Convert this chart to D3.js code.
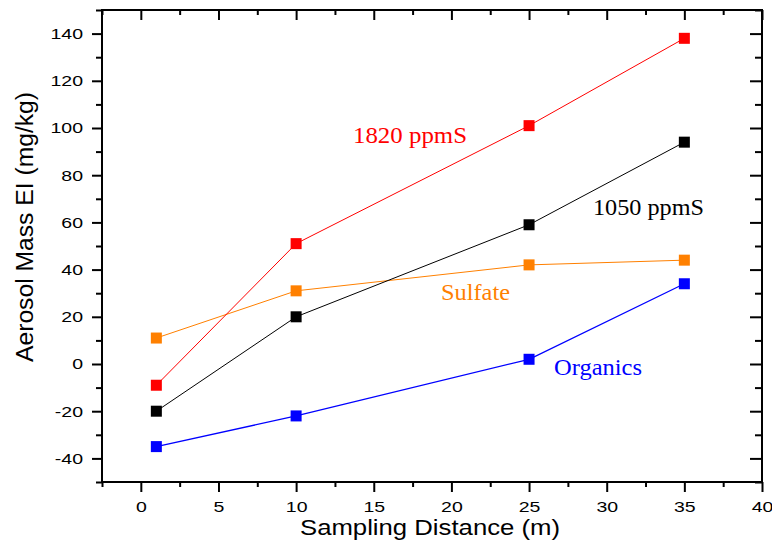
<!DOCTYPE html>
<html><head><meta charset="utf-8">
<script src="https://cdn.jsdelivr.net/npm/d3@7"></script>
<style>body{margin:0;background:#fff}svg{display:block}</style>
</head><body>
<script>
const distances = [1, 10, 25, 35];
const series1820 = [-9, 51, 101, 138];
const series1050 = [-20, 20, 59, 94];
const seriesSulfate = [11, 31, 42, 44];
const seriesOrganics = [-35, -22, 2, 34];
const xTicks = [0, 5, 10, 15, 20, 25, 30, 35, 40];
const yTicks = [-40, -20, 0, 20, 40, 60, 80, 100, 120, 140];

const W = 772, H = 544;
const m = {left: 102, right: 10, top: 10, bottom: 62};
const svg = d3.select("body").append("svg").attr("width", W).attr("height", H);
svg.append("rect").attr("width", W).attr("height", H).attr("fill", "#fff");

const x = d3.scaleLinear().domain([-2.5, 40]).range([m.left, W - m.right]);
const y = d3.scaleLinear().domain([-50, 150]).range([H - m.bottom, m.top]);

const font = "Liberation Sans, Arial, sans-serif";
const SX = 1.3;
const fmt = d => String(d);

function styleAxis(g) {
  g.select(".domain").remove();
  g.selectAll("line").attr("stroke", "#000").attr("stroke-width", 2);
  g.selectAll("text").attr("font-family", font).attr("font-size", 15).attr("fill", "#000");
}

const xMinor = d3.range(-2.5, 40.01, 5);
const yMinor = d3.range(-50, 150.01, 20);

// bottom
const gB = svg.append("g").attr("transform", `translate(0,${y(-50)})`)
  .call(d3.axisBottom(x).tickValues(xTicks).tickSize(10).tickPadding(0).tickFormat(fmt));
styleAxis(gB);
gB.selectAll("text").attr("dy", 0).attr("y", 30).attr("transform", `scale(${SX},1)`);
svg.append("g").attr("transform", `translate(0,${y(-50)})`)
  .call(d3.axisBottom(x).tickValues(xMinor).tickSize(5).tickFormat("")).call(styleAxis);
// top (inward)
svg.append("g").attr("transform", `translate(0,${y(150)})`)
  .call(d3.axisBottom(x).tickValues(xTicks).tickSize(10).tickFormat("")).call(styleAxis);
svg.append("g").attr("transform", `translate(0,${y(150)})`)
  .call(d3.axisBottom(x).tickValues(xMinor).tickSize(5).tickFormat("")).call(styleAxis);
// left
const gL = svg.append("g").attr("transform", `translate(${x(-2.5)},0)`)
  .call(d3.axisLeft(y).tickValues(yTicks).tickSize(10).tickPadding(9).tickFormat(fmt));
styleAxis(gL);
gL.selectAll("text").each(function(){
  const t = d3.select(this); const ox = +t.attr("x");
  t.attr("x", ox / SX).attr("transform", `scale(${SX},1)`);
});
svg.append("g").attr("transform", `translate(${x(-2.5)},0)`)
  .call(d3.axisLeft(y).tickValues(yMinor).tickSize(6).tickFormat("")).call(styleAxis);
// right (inward)
svg.append("g").attr("transform", `translate(${x(40)},0)`)
  .call(d3.axisLeft(y).tickValues(yTicks).tickSize(12).tickFormat("")).call(styleAxis);
svg.append("g").attr("transform", `translate(${x(40)},0)`)
  .call(d3.axisLeft(y).tickValues(yMinor).tickSize(7).tickFormat("")).call(styleAxis);

// frame
svg.append("rect").attr("x", x(-2.5)).attr("y", y(150))
  .attr("width", x(40) - x(-2.5)).attr("height", y(-50) - y(150))
  .attr("fill", "none").attr("stroke", "#000").attr("stroke-width", 2);

// series
const series = [
  {vals: seriesSulfate, color: "#ff8000", w: 1},
  {vals: series1820, color: "#ff0000", w: 1},
  {vals: series1050, color: "#000000", w: 1},
  {vals: seriesOrganics, color: "#0000ff", w: 1.3}
];
const line = d3.line().x((d, i) => x(distances[i])).y(d => y(d));
series.forEach(s => {
  svg.append("path").datum(s.vals).attr("d", line).attr("fill", "none")
    .attr("stroke", s.color).attr("stroke-width", s.w);
  svg.append("g").selectAll("rect").data(s.vals).join("rect")
    .attr("x", (d, i) => x(distances[i]) - 5.5).attr("y", d => y(d) - 5.5)
    .attr("width", 11).attr("height", 11).attr("fill", s.color);
});

// series labels
const serif = "Liberation Serif, Times New Roman, serif";
const labels = [
  {t: "1820 ppmS", x: 353, y: 143, w: 114, c: "#ff0000"},
  {t: "1050 ppmS", x: 593, y: 215, w: 111, c: "#000000"},
  {t: "Sulfate", x: 441, y: 300, w: 69, c: "#ff8000"},
  {t: "Organics", x: 554, y: 375, w: 88, c: "#0000ff"}
];
labels.forEach(l => {
  svg.append("text").attr("x", l.x).attr("y", l.y).attr("font-family", serif)
    .attr("font-size", 23).attr("fill", l.c).attr("textLength", l.w)
    .attr("lengthAdjust", "spacingAndGlyphs").text(l.t);
});

// axis titles
svg.append("text").attr("x", 430).attr("y", 535).attr("text-anchor", "middle")
  .attr("font-family", font).attr("font-size", 22).attr("textLength", 260)
  .attr("lengthAdjust", "spacingAndGlyphs").text("Sampling Distance (m)");
svg.append("text").attr("transform", "translate(33,227) rotate(-90) scale(1,1.15)")
  .attr("text-anchor", "middle").attr("font-family", font).attr("font-size", 21)
  .attr("textLength", 270).attr("lengthAdjust", "spacingAndGlyphs").text("Aerosol Mass EI (mg/kg)");
</script>
</body></html>
